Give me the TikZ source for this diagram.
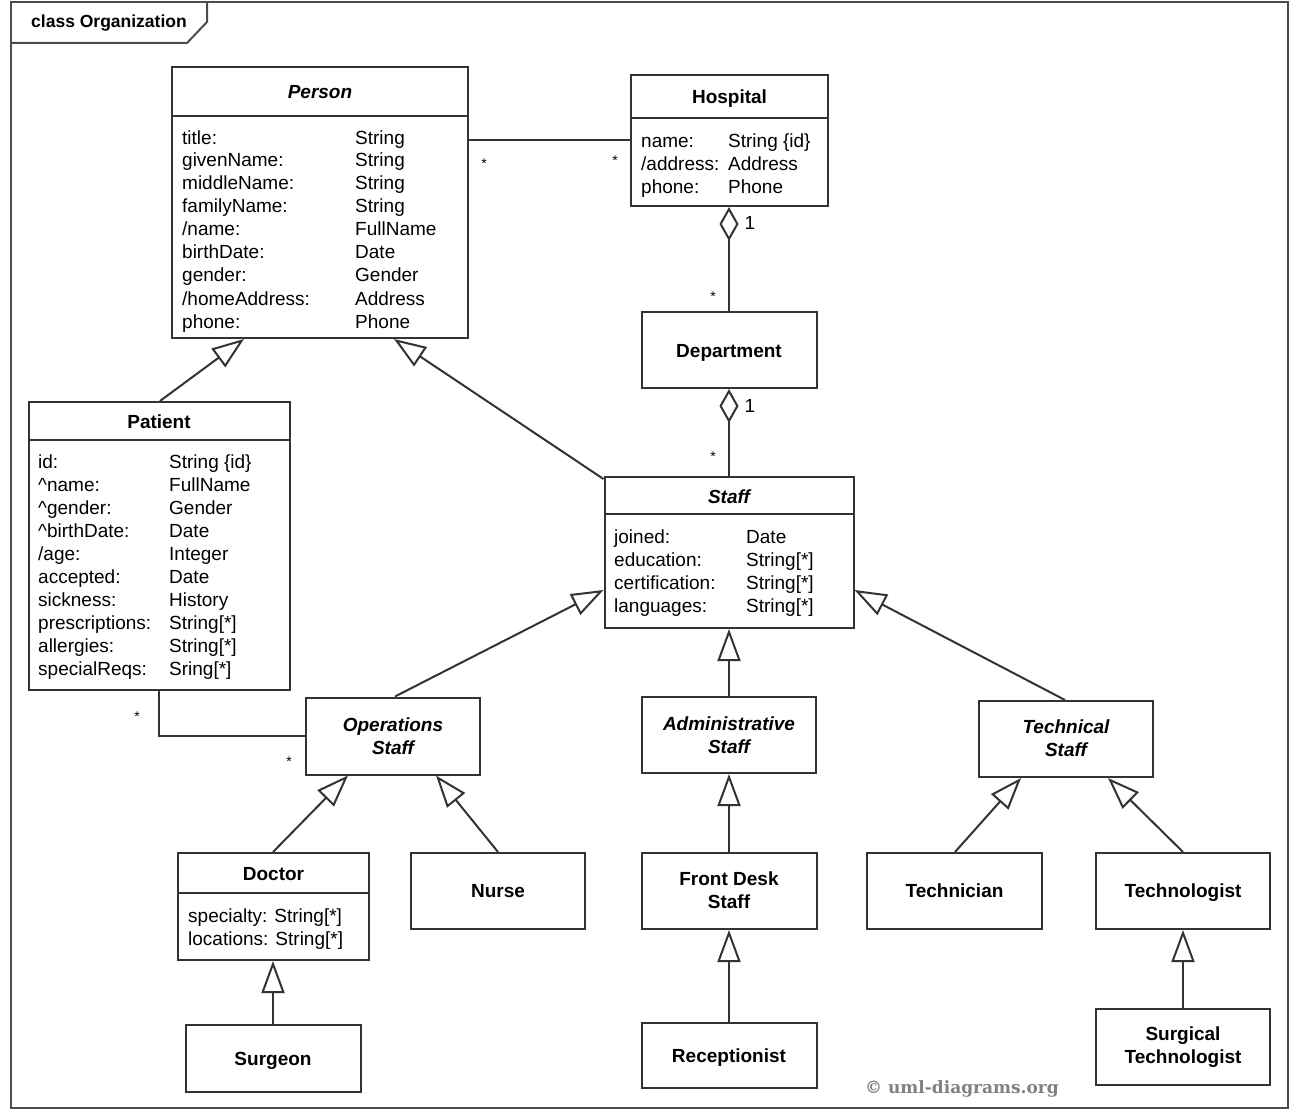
\documentclass[tikz,border=0pt]{standalone}
\usepackage{fontspec}
\setmainfont{Liberation Sans}
\newfontfamily\wmfont{DejaVu Serif}
\usetikzlibrary{arrows.meta,calc}
\begin{document}
\begin{tikzpicture}[x=1pt,y=-1pt,
  every node/.style={font=\fontsize{19}{23}\selectfont, inner sep=0pt},
  ln/.style={line width=2pt, draw=black!80},
  cls/.style={ln, fill=white, anchor=center},
  nm/.style={font=\fontsize{19}{23}\selectfont\bfseries, anchor=base},
  anm/.style={font=\fontsize{19}{23}\selectfont\bfseries\itshape, anchor=base},
  mnm/.style={font=\fontsize{19}{23}\selectfont\bfseries, align=center},
  amnm/.style={font=\fontsize{19}{23}\selectfont\bfseries\itshape, align=center},
  attr/.style={anchor=base west},
  mult/.style={font=\fontsize{14}{16}\selectfont, anchor=base},
  one/.style={font=\fontsize{19}{23}\selectfont, anchor=base},
  gen/.style={ln, -{Triangle[open, length=32pt, width=23pt, fill=white, line width=2pt]}},
  agg/.style={ln, -{Diamond[open, length=34pt, width=19pt, fill=white, line width=2pt]}},
  asc/.style={ln}
]
\useasboundingbox (0,0) rectangle (1290,1113);
\fill[white] (0,0) rectangle (1290,1113);

% frame
\draw[line width=2pt, draw=black!70] (11,2) rectangle (1288,1108);
\draw[line width=2pt, draw=black!70] (11,43) -- (187,43) -- (207,22) -- (207,2);
\node[font=\fontsize{17.5}{20}\selectfont\bfseries, anchor=base] (frametitle) at (109,28) {class Organization};

% ---------- Person
\node[cls, minimum width=296pt, minimum height=271pt] (Person) at (320,202.5) {};
\draw[ln] ($(Person.north west)+(0,50)$) -- ($(Person.north east)+(0,50)$);
\node[anm] (PersonN) at (320,99) {Person};
\node[attr] (PersonA) at (182,144) {\begin{tabular}[t]{@{}p{173pt}@{}l@{}}
title: & String\\
givenName: & String\\
middleName: & String\\
familyName: & String\\
/name: & FullName\\
birthDate: & Date\\
gender: & Gender\\
/homeAddress: & Address\\
phone: & Phone
\end{tabular}};

% ---------- Hospital
\node[cls, minimum width=197pt, minimum height=131pt] (Hospital) at (729.5,140.5) {};
\draw[ln] ($(Hospital.north west)+(0,44)$) -- ($(Hospital.north east)+(0,44)$);
\node[nm] (HospitalN) at (729.5,104) {Hospital};
\node[attr] (HospitalA) at (641,147) {\begin{tabular}[t]{@{}p{87pt}@{}l@{}}
name: & String \{id\}\\
/address: & Address\\
phone: & Phone
\end{tabular}};

% ---------- Department
\node[cls, minimum width=175pt, minimum height=76pt] (Department) at (729,350) {};
\node[nm] (DepartmentN) at (729,357) {Department};

% ---------- Staff
\node[cls, minimum width=249pt, minimum height=151pt] (Staff) at (729,552.5) {};
\draw[ln] ($(Staff.north west)+(0,38)$) -- ($(Staff.north east)+(0,38)$);
\node[anm] (StaffN) at (729,503) {Staff};
\node[attr] (StaffA) at (614,543) {\begin{tabular}[t]{@{}p{132pt}@{}l@{}}
joined: & Date\\
education: & String[*]\\
certification: & String[*]\\
languages: & String[*]
\end{tabular}};

% ---------- Patient
\node[cls, minimum width=261pt, minimum height=288pt] (Patient) at (159,546) {};
\draw[ln] ($(Patient.north west)+(0,39)$) -- ($(Patient.north east)+(0,39)$);
\node[nm] (PatientN) at (159,428) {Patient};
\node[attr] (PatientA) at (38,468) {\begin{tabular}[t]{@{}p{131pt}@{}l@{}}
id: & String \{id\}\\
\textasciicircum name: & FullName\\
\textasciicircum gender: & Gender\\
\textasciicircum birthDate: & Date\\
/age: & Integer\\
accepted: & Date\\
sickness: & History\\
prescriptions: & String[*]\\
allergies: & String[*]\\
specialReqs: & Sring[*]
\end{tabular}};

% ---------- second level
\node[cls, minimum width=174pt, minimum height=77pt] (Ops) at (393,736) {};
\node[amnm] (OpsN) at (393,736) {Operations\\Staff};
\node[cls, minimum width=174pt, minimum height=76pt] (Admin) at (729,735) {};
\node[amnm] (AdminN) at (729,735) {Administrative\\Staff};
\node[cls, minimum width=174pt, minimum height=76pt] (Tech) at (1066,739) {};
\node[amnm] (TechN) at (1066,738) {Technical\\Staff};

% ---------- third level
\node[cls, minimum width=191pt, minimum height=107pt] (Doctor) at (273.5,906.5) {};
\draw[ln] ($(Doctor.north west)+(0,41)$) -- ($(Doctor.north east)+(0,41)$);
\node[nm] (DoctorN) at (273.5,880) {Doctor};
\node[attr] (DoctorA) at (188,922) {\begin{tabular}[t]{@{}l@{}}
specialty: String[*]\\
locations: String[*]
\end{tabular}};
\node[cls, minimum width=174pt, minimum height=76pt] (Nurse) at (498,891) {};
\node[nm] (NurseN) at (498,897) {Nurse};
\node[cls, minimum width=175pt, minimum height=67pt] (Surgeon) at (273,1058.5) {};
\node[nm] (SurgeonN) at (273,1065) {Surgeon};
\node[cls, minimum width=175pt, minimum height=76pt] (Front) at (729,891) {};
\node[mnm] (FrontN) at (729,890) {Front Desk\\Staff};
\node[cls, minimum width=175pt, minimum height=65pt] (Recep) at (729,1055.5) {};
\node[nm] (RecepN) at (729,1062) {Receptionist};
\node[cls, minimum width=175pt, minimum height=76pt] (Technician) at (954.5,891) {};
\node[nm] (TechnicianN) at (954.5,897) {Technician};
\node[cls, minimum width=174pt, minimum height=76pt] (Technologist) at (1183,891) {};
\node[nm] (TechnologistN) at (1183,897) {Technologist};
\node[cls, minimum width=174pt, minimum height=76pt] (Surg) at (1183,1047) {};
\node[mnm] (SurgN) at (1183,1047) {Surgical\\Technologist};

% ---------- associations
\draw[asc] ($(Person.north east)+(0,74)$) -- ($(Hospital.north west)+(0,66)$);
\node[mult] (m1) at (484,168) {*};
\node[mult] (m2) at (615,165) {*};
\draw[agg] (Department.north) -- (Department.north |- Hospital.south);
\node[one] (o1) at (750,229) {1};
\node[mult] (m3) at (713,301) {*};
\draw[agg] (Staff.north) -- (Staff.north |- Department.south);
\node[one] (o2) at (750,412) {1};
\node[mult] (m4) at (713,461) {*};
\draw[asc] (Patient.south) -- (Patient.south |- Ops.west) -- (Ops.west);
\node[mult] (m5) at (137,721) {*};
\node[mult] (m6) at (289,766) {*};

% ---------- generalizations
\draw[gen] ($(Patient.north)+(1,0)$) -- ($(Person.south west)+(73,0)$);
\draw[gen] ($(Staff.north west)+(0,3)$) -- ($(Person.south west)+(223,0)$);
\draw[gen] ($(Ops.north)+(2,0)$) -- ($(Staff.north west)+(0,114)$);
\draw[gen] (Admin.north) -- (Admin.north |- Staff.south);
\draw[gen] ($(Tech.north)+(-1,0)$) -- ($(Staff.north east)+(0,114)$);
\draw[gen] ($(Doctor.north)+(-0.5,0)$) -- ($(Ops.south west)+(43,0)$);
\draw[gen] (Nurse.north) -- ($(Ops.south west)+(131,0)$);
\draw[gen] (Surgeon.north) -- (Surgeon.north |- Doctor.south);
\draw[gen] (Front.north) -- (Front.north |- Admin.south);
\draw[gen] (Recep.north) -- (Recep.north |- Front.south);
\draw[gen] ($(Technician.north)+(0.5,0)$) -- ($(Tech.south west)+(43,0)$);
\draw[gen] (Technologist.north) -- ($(Tech.south west)+(130,0)$);
\draw[gen] (Surg.north) -- (Surg.north |- Technologist.south);

% watermark
\node[font=\fontsize{17}{20}\selectfont\wmfont\bfseries, text=black!50, anchor=base] (wm) at (962,1093) {© uml-diagrams.org};
\end{tikzpicture}
\end{document}
